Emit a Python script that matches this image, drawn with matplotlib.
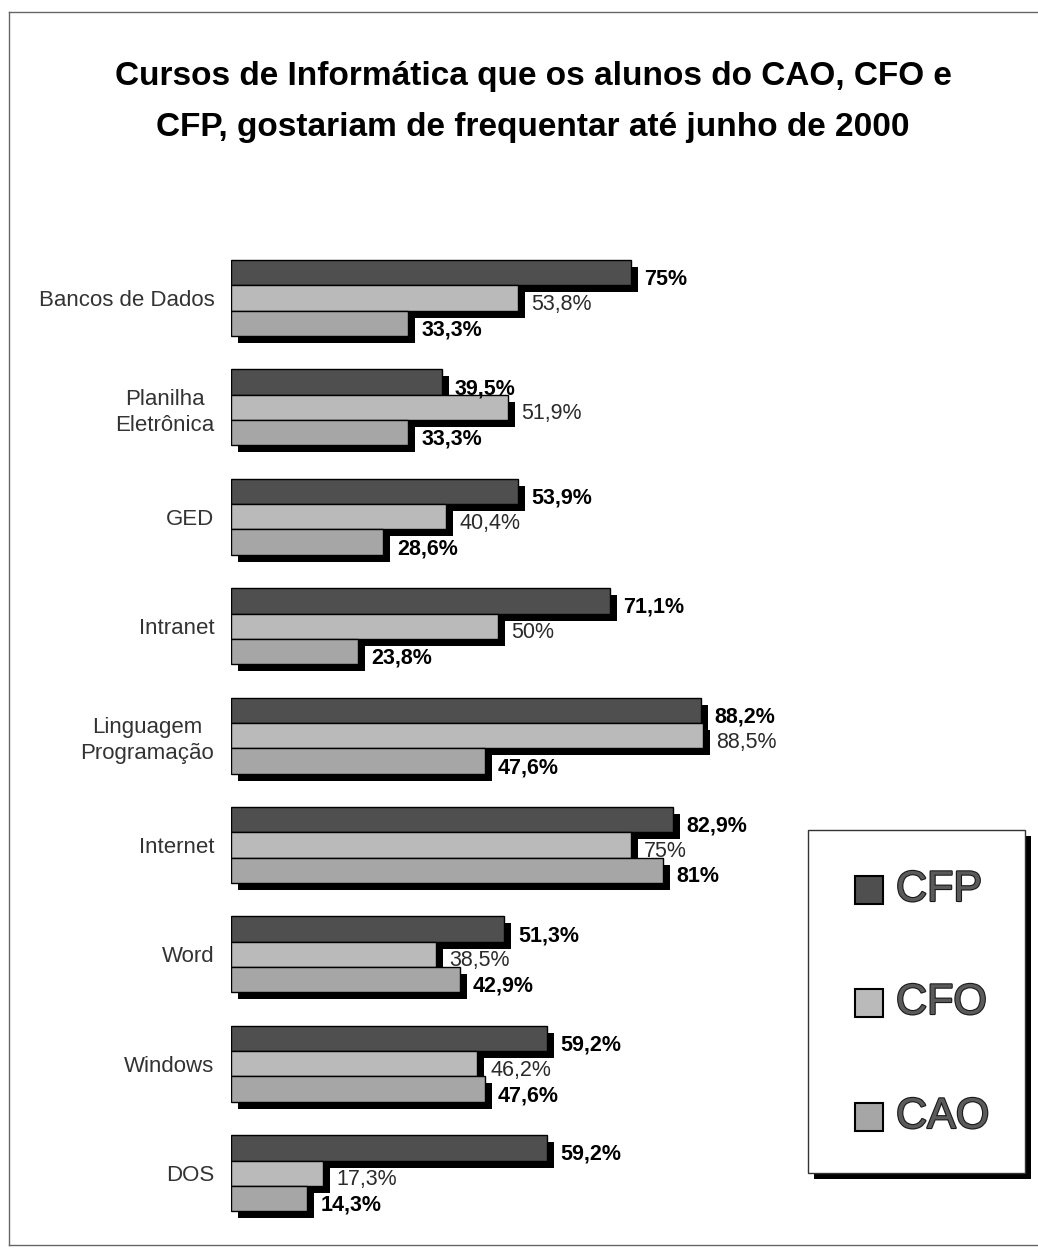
import matplotlib
matplotlib.use("Agg")
import matplotlib.pyplot as plt
from matplotlib.patches import Rectangle
from matplotlib.lines import Line2D
import matplotlib.patheffects as pe

# ---------------- data ----------------
categories = ["Bancos de Dados", "Planilha\nEletrônica", "GED", "Intranet",
              "Linguagem\nProgramação", "Internet", "Word", "Windows", "DOS"]
series_names = ["CFP", "CFO", "CAO"]
cfp = [75, 39.5, 53.9, 71.1, 88.2, 82.9, 51.3, 59.2, 59.2]
cfo = [53.8, 51.9, 40.4, 50, 88.5, 75, 38.5, 46.2, 17.3]
cao = [33.3, 33.3, 28.6, 23.8, 47.6, 81, 42.9, 47.6, 14.3]
title = "Cursos de Informática que os alunos do CAO, CFO e\nCFP, gostariam de frequentar até junho de 2000"

# ---------------- style ----------------
W, H = 1038, 1248
fig = plt.figure(figsize=(W / 100, H / 100), dpi=100)
fig.patch.set_facecolor("white")

SANS = ["Liberation Sans", "DejaVu Sans"]

fills = ["#4f4f4f", "#bababa", "#a6a6a6"]
label_weights = ["bold", "normal", "bold"]
label_colors = ["#000000", "#2a2a2a", "#000000"]

def px_rect(x0, y0, x1, y1):
    """pixel box (top-left origin) -> figure fraction [l, b, w, h]"""
    return [x0 / W, 1 - y1 / H, (x1 - x0) / W, (y1 - y0) / H]

# axes geometry (pixels)
x_base, px_per_unit = 231, 5.33
y_first, y_step = 298, 109.4
pad = 0.6
ax_top = y_first - pad * y_step
ax_bot = y_first + (len(categories) - 1 + pad) * y_step
ax = fig.add_axes(px_rect(x_base, ax_top, x_base + 100 * px_per_unit, ax_bot))
ax.set_xlim(0, 100)
ax.set_ylim(len(categories) - 1 + pad, -pad)
ax.patch.set_alpha(0)
for s in ax.spines.values():
    s.set_visible(False)

bh = 0.232
offsets = [-bh, 0.0, bh]
dx = 7 / px_per_unit
dy = 7 / y_step

series = [cfp, cfo, cao]
for k, vals in enumerate(series):
    ys = [i + offsets[k] for i in range(len(categories))]
    # shadow
    ax.barh([y + dy for y in ys], vals, height=bh, left=dx, color="black",
            edgecolor="black", linewidth=0, zorder=2 * k + 1)
    ax.barh(ys, vals, height=bh, color=fills[k], edgecolor="black",
            linewidth=1.0, zorder=2 * k + 2)
    for y, v in zip(ys, vals):
        txt = f"{v:g}".replace(".", ",") + "%"
        ax.text(v + dx + 1.2, y + 0.06, txt, ha="left", va="center",
                fontsize=15.5, family=SANS, fontweight=label_weights[k],
                color=label_colors[k], zorder=10)

ax.set_xticks([])
ax.set_yticks(range(len(categories)))
ax.set_yticklabels(categories, family=SANS, fontsize=16, color="#333333",
                   multialignment="center", linespacing=1.3)
ax.tick_params(axis="y", length=0, pad=12)

# ---------------- title ----------------
fig.text(533 / W, 1 - 102 / H, title, ha="center", va="center",
         family=SANS, fontweight="bold", fontsize=24, color="black",
         linespacing=1.85)

# ---------------- outer frame (top, left, bottom) ----------------
for xs, ys_ in [((9, 1038), (12, 12)), ((9, 9), (12, 1245)), ((9, 1038), (1245, 1245))]:
    fig.add_artist(Line2D([x / W for x in xs], [1 - y / H for y in ys_],
                          transform=fig.transFigure, color="#666666",
                          linewidth=1.0, zorder=0))

# ---------------- legend ----------------
lx0, ly0, lx1, ly1 = 808, 830, 1025, 1173
sh = 6
fig.patches.append(Rectangle(((lx0 + sh) / W, 1 - (ly1 + sh) / H),
                             (lx1 - lx0) / W, (ly1 - ly0) / H,
                             transform=fig.transFigure, facecolor="black",
                             edgecolor="black", linewidth=0, zorder=1))
fig.patches.append(Rectangle((lx0 / W, 1 - ly1 / H), (lx1 - lx0) / W,
                             (ly1 - ly0) / H, transform=fig.transFigure,
                             facecolor="white", edgecolor="#333333",
                             linewidth=1.0, zorder=2))
leg_y = [890, 1003, 1117]
sq = 28
for k, name in enumerate(series_names):
    cy = leg_y[k]
    fig.patches.append(Rectangle((855 / W, 1 - (cy + sq / 2) / H), sq / W,
                                 sq / H, transform=fig.transFigure,
                                 facecolor=fills[k], edgecolor="black",
                                 linewidth=1.5, zorder=3))
    fig.text(896 / W, 1 - cy / H, name, ha="left", va="center",
             family=SANS, fontsize=31, color="#5a5a5a", zorder=4,
             path_effects=[pe.withStroke(linewidth=1.6, foreground="#1a1a1a")])

fig.savefig("out.png", dpi=100, facecolor="white")
